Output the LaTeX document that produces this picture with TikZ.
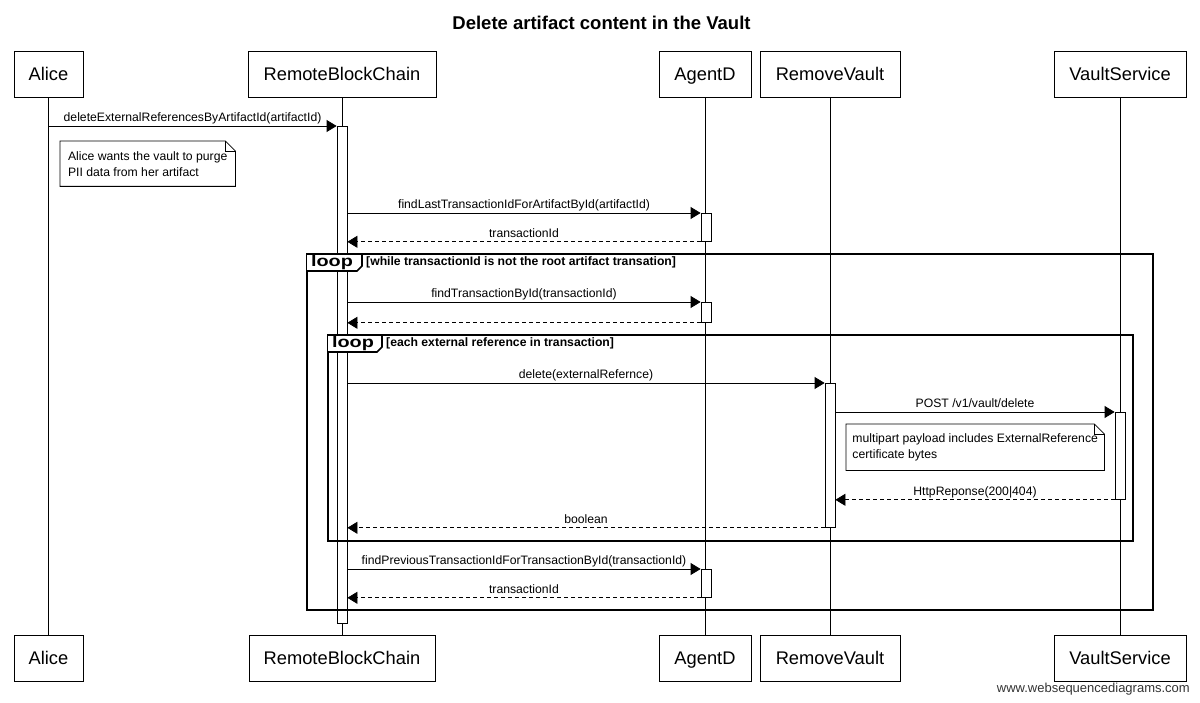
\documentclass[tikz,border=0pt]{standalone}
\usepackage{fontspec}
\setmainfont{Liberation Sans}
\usetikzlibrary{arrows.meta,positioning}

\newcommand\msgsize{\fontsize{12.2}{16}\selectfont}
\newcommand\foldnote[1]{%
  \draw[noteline] (#1.north west) -- ([xshift=-10pt]#1.north east) -- ([yshift=-10pt]#1.north east)
     -- (#1.south east) -- (#1.south west) -- cycle;
  \draw[noteline] ([xshift=-10pt]#1.north east) |- ([yshift=-10pt]#1.north east);}

\begin{document}
\begin{tikzpicture}[x=1pt,y=-1pt,
    actor/.style={draw,line width=0.8pt,minimum height=46pt,inner sep=0pt,text height=13pt,text depth=0.5pt,font=\fontsize{18.3}{21}\selectfont},
    life/.style={line width=0.8pt},
    activ/.style={draw,fill=white,line width=0.8pt,minimum width=10pt,inner sep=0pt,anchor=north},
    msg/.style={line width=0.8pt,-{Triangle[length=10pt,width=12pt]}},
    ret/.style={msg,dash pattern=on 4pt off 3pt},
    lbl/.style={above,inner sep=1pt,font=\msgsize,text height=9pt,text depth=3pt},
    note/.style={anchor=north west,align=left,inner xsep=6pt,minimum width=#1,font=\msgsize},
    noteline/.style={line width=0.8pt},
    frame/.style={line width=1.6pt},
    tag/.style={font=\bfseries\fontsize{15.5}{17}\selectfont\addfontfeature{FakeStretch=1.28},inner sep=0pt},
    guard/.style={anchor=west,inner sep=0pt,font=\bfseries\msgsize}]

\useasboundingbox (0,0) rectangle (1200,703);

\node[font=\bfseries\fontsize{18.5}{22}\selectfont] (title) at (601.5,23) {Delete artifact content in the Vault};

\node[actor,minimum width=69pt]  (alice)  at (48.5,74) {Alice};
\node[actor,minimum width=188pt] (rbc)    at (342,74)  {RemoteBlockChain};
\node[actor,minimum width=92pt]  (agent)  at (705,74)  {AgentD};
\node[actor,minimum width=140pt] (rvault) at (830,74)  {RemoveVault};
\node[actor,minimum width=132pt] (vsvc)   at (1120,74) {VaultService};

\node[actor,minimum width=69pt]  (alice2)  at (48.5,658) {Alice};
\node[actor,minimum width=186pt] (rbc2)    at (342,658)  {RemoteBlockChain};
\node[actor,minimum width=92pt]  (agent2)  at (705,658)  {AgentD};
\node[actor,minimum width=140pt] (rvault2) at (830,658)  {RemoveVault};
\node[actor,minimum width=132pt] (vsvc2)   at (1120,658) {VaultService};

\foreach \who in {alice,rbc,agent,rvault,vsvc}
  \draw[life] (\who) -- (\who2);

\node[activ,minimum height=497pt] (rbcA) at (342,126)  {};
\node[activ,minimum height=28pt]  (agA1) at (706,213)  {};
\node[activ,minimum height=20pt]  (agA2) at (706,302)  {};
\node[activ,minimum height=144pt] (rvA)  at (830,383)  {};
\node[activ,minimum height=87pt]  (vsA)  at (1120,412) {};
\node[activ,minimum height=28pt]  (agA3) at (706,569)  {};

\draw[msg] (alice |- rbcA.north) -- node[lbl] {deleteExternalReferencesByArtifactId(artifactId)} (rbcA.north west);

\node[note=175pt,minimum height=45pt] (aliceNote) at (60,141) {Alice wants the vault to purge\\PII data from her artifact};
\foldnote{aliceNote}

\draw[msg] (rbcA.east |- agA1.north) -- node[lbl] {findLastTransactionIdForArtifactById(artifactId)} (agA1.north west);
\draw[ret] (agA1.south west) -- node[lbl] {transactionId} (rbcA.east |- agA1.south);

\coordinate (outerNW) at (307,254);
\coordinate (outerSE) at (1153,610);
\draw[frame] (outerNW) rectangle (outerSE);
\draw[frame,fill=white] (outerNW) -- ++(55,0) -- ++(0,12) -- ++(-5,5) -- ++(-50,0);
\node[tag] (outerTag) at (332,262.5) {loop};
\node[guard] (outerGuard) at (366,262) {[while transactionId is not the root artifact transation]};

\draw[msg] (rbcA.east |- agA2.north) -- node[lbl] {findTransactionById(transactionId)} (agA2.north west);
\draw[ret] (agA2.south west) -- (rbcA.east |- agA2.south);

\coordinate (innerNW) at (328,335);
\coordinate (innerSE) at (1133,541);
\draw[frame] (innerNW) rectangle (innerSE);
\draw[frame,fill=white] (innerNW) -- ++(54,0) -- ++(0,12) -- ++(-5,5) -- ++(-49,0);
\node[tag] (innerTag) at (353,343.5) {loop};
\node[guard] (innerGuard) at (386,343) {[each external reference in transaction]};

\draw[msg] (rbcA.east |- rvA.north) -- node[lbl] {delete(externalRefernce)} (rvA.north west);
\draw[msg] (rvA.east |- vsA.north) -- node[lbl] {POST /v1/vault/delete} (vsA.north west);

\node[note=258pt,minimum height=46pt] (payloadNote) at (846,424) {multipart payload includes ExternalReference\\certificate bytes};
\foldnote{payloadNote}

\draw[ret] (vsA.south west) -- node[lbl] {HttpReponse(200|404)} (rvA.east |- vsA.south);
\draw[ret] (rvA.south west) -- node[lbl] {boolean} (rbcA.east |- rvA.south);

\draw[msg] (rbcA.east |- agA3.north) -- node[lbl] {findPreviousTransactionIdForTransactionById(transactionId)} (agA3.north west);
\draw[ret] (agA3.south west) -- node[lbl] {transactionId} (rbcA.east |- agA3.south);

\node[anchor=east,inner sep=0pt,font=\fontsize{13}{15}\selectfont,text=black!80] (wsd) at (1190,689) {www.websequencediagrams.com};
\end{tikzpicture}
\end{document}
